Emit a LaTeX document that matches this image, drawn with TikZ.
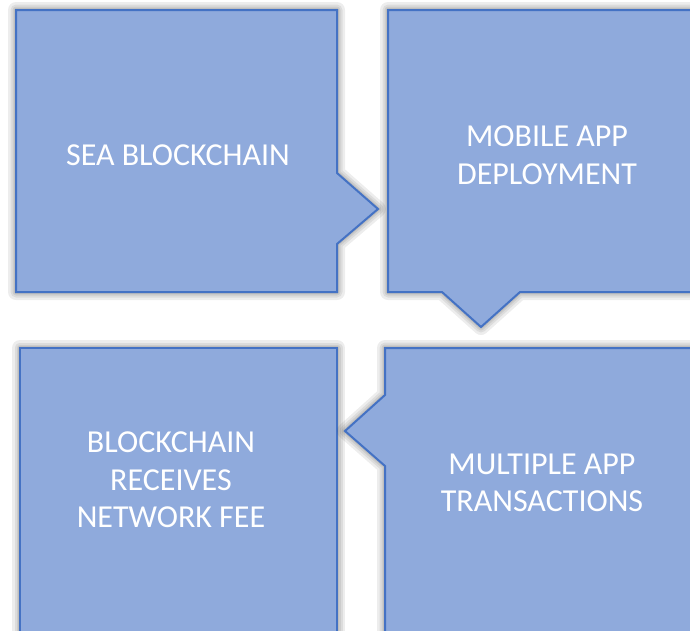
\documentclass[tikz,border=0pt]{standalone}
\usepackage{fontspec}
\setmainfont{Carlito}
\definecolor{boxfill}{HTML}{8FAADC}
\definecolor{boxline}{HTML}{4472C4}
\tikzset{
  panel/.style={fill=boxfill, draw=boxline, line width=2pt, line join=miter},
  glow/.style={draw=black, opacity=0.07, line join=round},
  label/.style={text=white, align=center, font=\fontsize{32}{37.5}\selectfont, inner sep=0pt}
}
\newcommand{\panelpath}[1]{%
  \draw[glow, line width=16pt] #1;
  \draw[glow, line width=11pt] #1;
  \draw[glow, line width=7pt] #1;
  \draw[glow, line width=4pt] #1;
  \path[panel] #1;}
\begin{document}
\begin{tikzpicture}[x=1pt,y=-1pt]
\useasboundingbox (0,0) rectangle (690,630);
\clip (0,0) rectangle (690,630);
\panelpath{(16,10) -- (337,10) -- (337,173) -- (378,209) -- (337,244) -- (337,292) -- (16,292) -- cycle}
\panelpath{(388,10) -- (712,10) -- (712,292) -- (520,292) -- (481,327) -- (442,292) -- (388,292) -- cycle}
\panelpath{(20,348) -- (337,348) -- (337,645) -- (20,645) -- cycle}
\panelpath{(385,348) -- (712,348) -- (712,645) -- (385,645) -- (385,466) -- (345,431) -- (385,395) -- cycle}
\node[label] (sea) at (178,155) {SEA BLOCKCHAIN};
\node[label] (mob) at (547,155) {MOBILE APP\\DEPLOYMENT};
\node[label] (fee) at (171,480) {BLOCKCHAIN\\RECEIVES\\NETWORK FEE};
\node[label] (multi) at (542,483) {MULTIPLE APP\\TRANSACTIONS};
\end{tikzpicture}
\end{document}
